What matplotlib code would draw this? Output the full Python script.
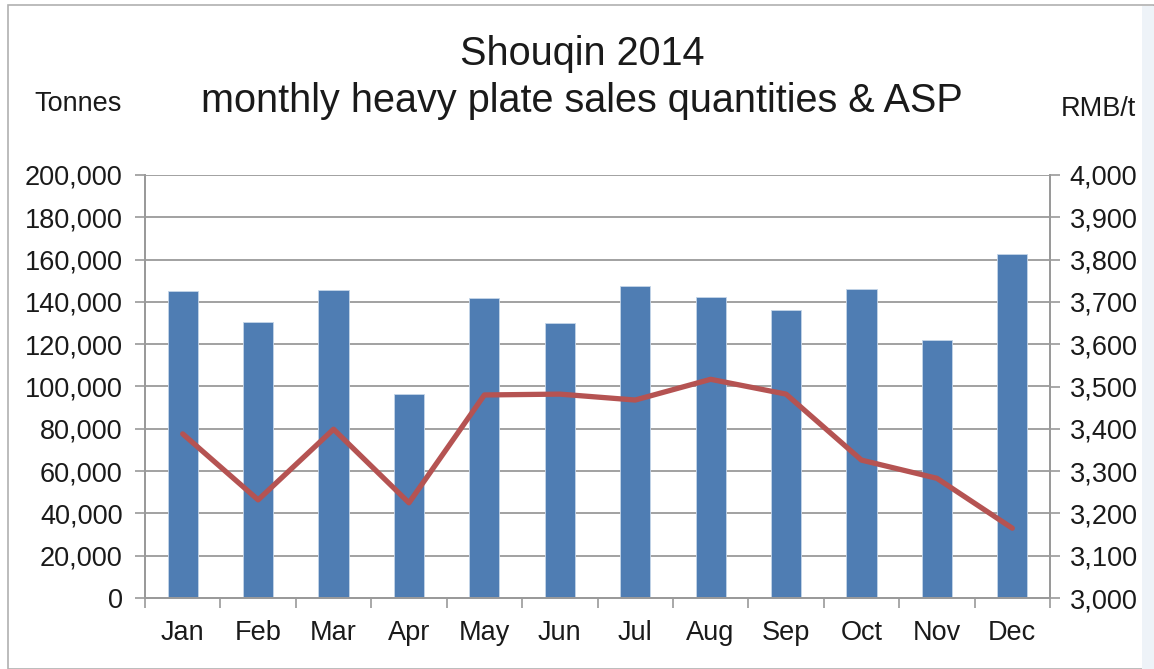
import matplotlib.pyplot as plt
from matplotlib.patches import Rectangle
from matplotlib.ticker import FuncFormatter, MultipleLocator
import numpy as np

plt.rcParams['font.family'] = ['Liberation Sans', 'DejaVu Sans']

months = ['Jan', 'Feb', 'Mar', 'Apr', 'May', 'Jun', 'Jul', 'Aug', 'Sep', 'Oct', 'Nov', 'Dec']
tonnes = [145300, 130400, 145500, 96300, 141800, 129900, 147500, 142200, 136000, 146000, 122000, 162600]
asp = [3388, 3232, 3399, 3225, 3480, 3482, 3468, 3517, 3482, 3326, 3283, 3165]

fig = plt.figure(figsize=(11.54, 6.69), dpi=100)
W, H = 1154, 669

# outer frame and faint blue strip on the right
fig.patches.append(Rectangle((8 / W, 0), 1 - 8 / W, 1 - 5 / H, transform=fig.transFigure,
                             fill=False, edgecolor='#b0b0b0', lw=1.2))
fig.patches.append(Rectangle((1142 / W, 0), 12 / W, 1 - 6 / H, transform=fig.transFigure,
                             facecolor='#eef3f8', edgecolor='none'))

ax = fig.add_axes([145 / W, 1 - 598 / H, (1050 - 145) / W, (598 - 175) / H])
x = np.arange(len(months))

grid_c = '#9a9a9a'
txt_c = '#1a1a1a'
fs = 19.5

ax.bar(x, tonnes, width=0.4, color='#4f7db3', edgecolor='#c5d5e8', linewidth=0.6, zorder=2)
ax.set_xlim(-0.5, len(months) - 0.5)
ax.set_ylim(0, 200000)
ax.yaxis.set_major_locator(MultipleLocator(20000))
ax.yaxis.set_major_formatter(FuncFormatter(lambda v, p: f'{int(v):,}'))
ax.grid(axis='y', color=grid_c, lw=1.3, zorder=0)
ax.set_axisbelow(True)
ax.set_xticks(x)
ax.set_xticklabels(months)
ax.set_xticks(np.arange(-0.5, len(months)), minor=True)
ax.tick_params(axis='x', which='major', length=0, pad=16, labelsize=fs, colors=txt_c)
ax.tick_params(axis='x', which='minor', length=7, color=grid_c, width=1.2)
ax.tick_params(axis='y', length=7, color=grid_c, width=1.2, labelsize=fs, pad=9, labelcolor=txt_c)

ax.spines['top'].set_visible(False)
for s in ['left', 'right', 'bottom']:
    ax.spines[s].set_color(grid_c)
    ax.spines[s].set_linewidth(1.3)

ax2 = ax.twinx()
ax2.plot(x, asp, color='#b55352', lw=3.8, solid_capstyle='round', zorder=3)
ax2.set_ylim(3000, 4000)
ax2.yaxis.set_major_locator(MultipleLocator(100))
ax2.yaxis.set_major_formatter(FuncFormatter(lambda v, p: f'{int(v):,}'))
ax2.tick_params(axis='y', length=7, color=grid_c, width=1.2, labelsize=fs, pad=7, labelcolor=txt_c)
ax2.spines['top'].set_visible(False)
for s in ['left', 'right', 'bottom']:
    ax2.spines[s].set_color(grid_c)
    ax2.spines[s].set_linewidth(1.3)

fig.text(582 / W, 1 - 54 / H, 'Shouqin 2014', ha='center', va='center', fontsize=28.5, color=txt_c)
fig.text(582 / W, 1 - 101 / H, 'monthly heavy plate sales quantities & ASP', ha='center', va='center',
         fontsize=28.5, color=txt_c)
fig.text(78 / W, 1 - 104 / H, 'Tonnes', ha='center', va='center', fontsize=fs, color=txt_c)
fig.text(1098 / W, 1 - 109 / H, 'RMB/t', ha='center', va='center', fontsize=fs, color=txt_c)

fig.savefig('out.png', dpi=100)
